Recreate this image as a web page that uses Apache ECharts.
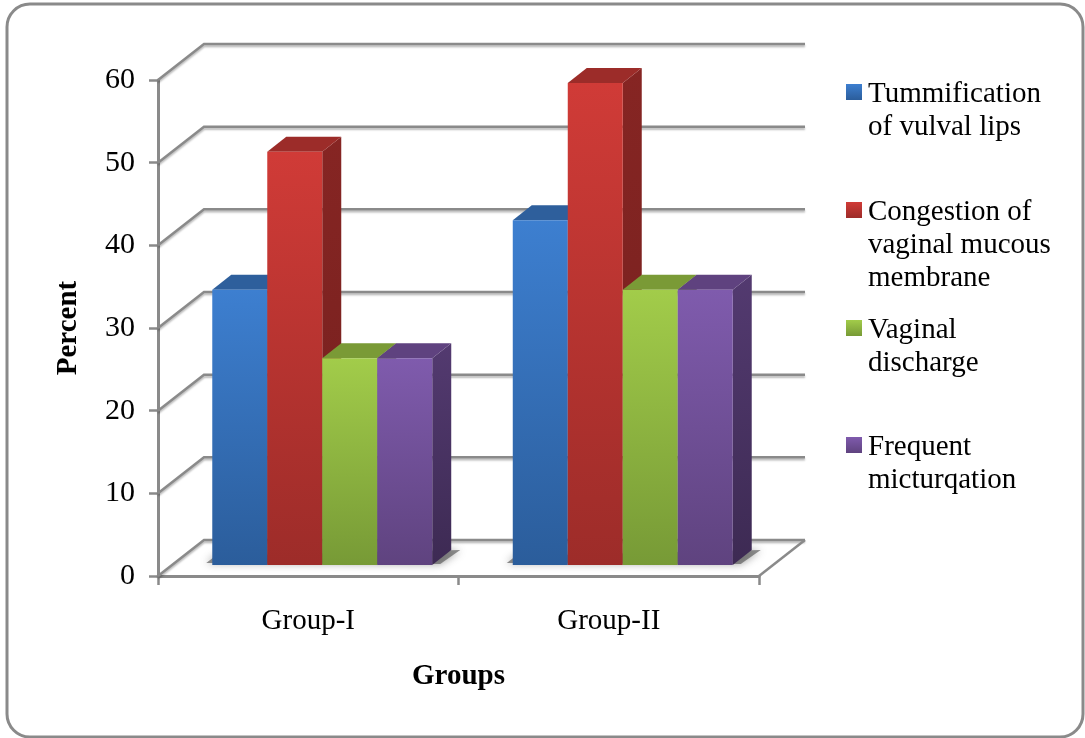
<!DOCTYPE html>
<html>
<head>
<meta charset="utf-8">
<style>html,body{margin:0;padding:0;background:#fff}#c{width:1085px;height:738px}</style>
<script src="https://cdn.jsdelivr.net/npm/echarts@6/dist/echarts.min.js"></script>
</head>
<body>
<div id="c"></div>
<script>
const categories = ['Group-I', 'Group-II'];
const tummification = [33.3, 41.7];
const congestion = [50, 58.3];
const discharge = [25, 33.3];
const micturition = [25, 33.3];
const yTicks = [0, 10, 20, 30, 40, 50, 60];
const seriesNames = ['Tummification of vulval lips', 'Congestion of vaginal mucous membrane', 'Vaginal discharge', 'Frequent micturqation'];
const legendLines = ['Tummification\nof vulval lips', 'Congestion of\nvaginal mucous\nmembrane', 'Vaginal\ndischarge', 'Frequent\nmicturqation'];
const legendTops = [76, 194, 312, 429];
const palette = [
  {a:'#3D7FD0', b:'#2B5D9B', top:'#2E5F9C', s1:'#2A5590', s2:'#234A7C'},
  {a:'#D03B37', b:'#9D2C29', top:'#9C2C29', s1:'#862523', s2:'#74201E'},
  {a:'#A2CC4A', b:'#779A36', top:'#7A9A36', s1:'#6C8830', s2:'#5C752A'},
  {a:'#7F5BAD', b:'#5F437F', top:'#5F427F', s1:'#533A70', s2:'#3D2A53'}
];
const values = [tummification, congestion, discharge, micturition];
const FONT = '"Liberation Serif","Times New Roman",serif';
const GRID = {left:158, top:80, width:601, height:496};
const WALL = {dx:46, dy:-36};
const DEPTH = {dx:19, dy:-15};
const BASE = {dx:14, dy:-11};
const GRAY = '#8A8A8A';

function grad(a, b){
  return {type:'linear', x:0, y:0, x2:0, y2:1, colorStops:[{offset:0,color:a},{offset:1,color:b}]};
}
function renderWall(params, api){
  const v = api.value(0);
  const y = api.coord([0, v])[1];
  const cs = params.coordSys;
  const x0 = cs.x, x1 = cs.x + cs.width;
  const bx = x0 + WALL.dx, by = y + WALL.dy;
  const style = {stroke:GRAY, lineWidth:2.5, fill:null, shadowColor:'rgba(0,0,0,0.28)', shadowBlur:2, shadowOffsetY:2};
  const children = [{type:'polyline', shape:{points:[[x0,y],[bx,by],[x1+WALL.dx,by]]}, style:style}];
  if (v === 0) {
    children.push({type:'line', shape:{x1:x1,y1:y,x2:x1+WALL.dx,y2:by}, style:{stroke:GRAY,lineWidth:2.5}});
  }
  return {type:'group', children:children};
}
function renderShadow(params, api){
  const c = api.coord([api.value(0), 0]);
  const band = api.size([1,0])[0];
  const w = band * 0.183;
  const left = c[0] + BASE.dx - 2*w, right = c[0] + BASE.dx + 2*w, y = c[1] + BASE.dy;
  return {type:'polygon', shape:{points:[[left-6,y-2],[left+3,y-9],[right+28,y-15],[right+8,y-1]]},
    style:{fill:'rgba(95,95,95,0.7)', shadowColor:'rgba(80,80,80,0.8)', shadowBlur:8}};
}
function barRenderer(idx){
  return function(params, api){
    const p = palette[idx];
    const c0 = api.coord([api.value(0), 0]);
    const c1 = api.coord([api.value(0), api.value(1)]);
    const w = api.size([1,0])[0] * 0.183;
    const l = c0[0] + BASE.dx - 2*w + idx*w, r = l + w;
    const bot = c0[1] + BASE.dy, top = c1[1] + BASE.dy;
    return {type:'group', children:[
      {type:'polygon', shape:{points:[[r,top],[r+DEPTH.dx,top+DEPTH.dy],[r+DEPTH.dx,bot+DEPTH.dy],[r,bot]]}, style:{fill:grad(p.s1,p.s2)}},
      {type:'polygon', shape:{points:[[l,top],[l+DEPTH.dx,top+DEPTH.dy],[r+DEPTH.dx,top+DEPTH.dy],[r,top]]}, style:{fill:p.top}},
      {type:'rect', shape:{x:l,y:top,width:w,height:bot-top}, style:{fill:grad(p.a,p.b)}}
    ]};
  };
}
const series = [
  {type:'custom', name:'wall', silent:true, z:1, clip:false, renderItem:renderWall, data:yTicks.map(v=>[v]), encode:{}},
  {type:'custom', name:'floor shadow', silent:true, z:2, clip:false, renderItem:renderShadow, data:categories.map((c,i)=>[i]), encode:{x:0}}
].concat(seriesNames.map((n,i)=>({
  type:'custom', name:n, z:3, clip:false, renderItem:barRenderer(i), encode:{x:0,y:1},
  data:categories.map((c,k)=>[k, values[i][k]])
})));

const graphic = [
  {type:'rect', z:-10, silent:true, shape:{x:7,y:4,width:1076,height:733,r:23}, style:{fill:'#fff',stroke:'#8A8A8A',lineWidth:3}}
];
legendLines.forEach((t,i)=>{
  graphic.push({type:'rect', silent:true, shape:{x:846,y:legendTops[i]+8,width:16,height:16}, style:{fill:grad(palette[i].a,palette[i].b)}});
  graphic.push({type:'text', silent:true, left:868, top:legendTops[i]+2, style:{text:t, font:'29px '+FONT, lineHeight:33, fill:'#000'}});
});

const chart = echarts.init(document.getElementById('c'), null, {renderer:'canvas'});
chart.setOption({
  animation:false,
  backgroundColor:'#fff',
  graphic:graphic,
  grid:Object.assign({containLabel:false}, GRID),
  xAxis:{type:'category', data:categories, boundaryGap:true, name:'Groups', nameLocation:'middle', nameGap:86,
    nameTextStyle:{fontFamily:FONT,fontWeight:'bold',fontSize:29,color:'#000'},
    axisLine:{lineStyle:{color:GRAY,width:3}},
    axisTick:{show:true,alignWithLabel:false,length:9,lineStyle:{color:GRAY,width:2.5}},
    axisLabel:{fontFamily:FONT,fontSize:29,color:'#000',margin:31}},
  yAxis:{type:'value', min:0, max:60, interval:10, name:'Percent', nameLocation:'middle', nameGap:75, nameRotate:90,
    nameTextStyle:{fontFamily:FONT,fontWeight:'bold',fontSize:29,color:'#000'},
    axisLine:{show:true,lineStyle:{color:GRAY,width:3}},
    axisTick:{show:true,length:9,lineStyle:{color:GRAY,width:2.5}},
    splitLine:{show:false},
    axisLabel:{fontFamily:FONT,fontSize:30,color:'#000',margin:23,padding:[4,0,0,0]}},
  series:series
});
</script>
</body>
</html>
